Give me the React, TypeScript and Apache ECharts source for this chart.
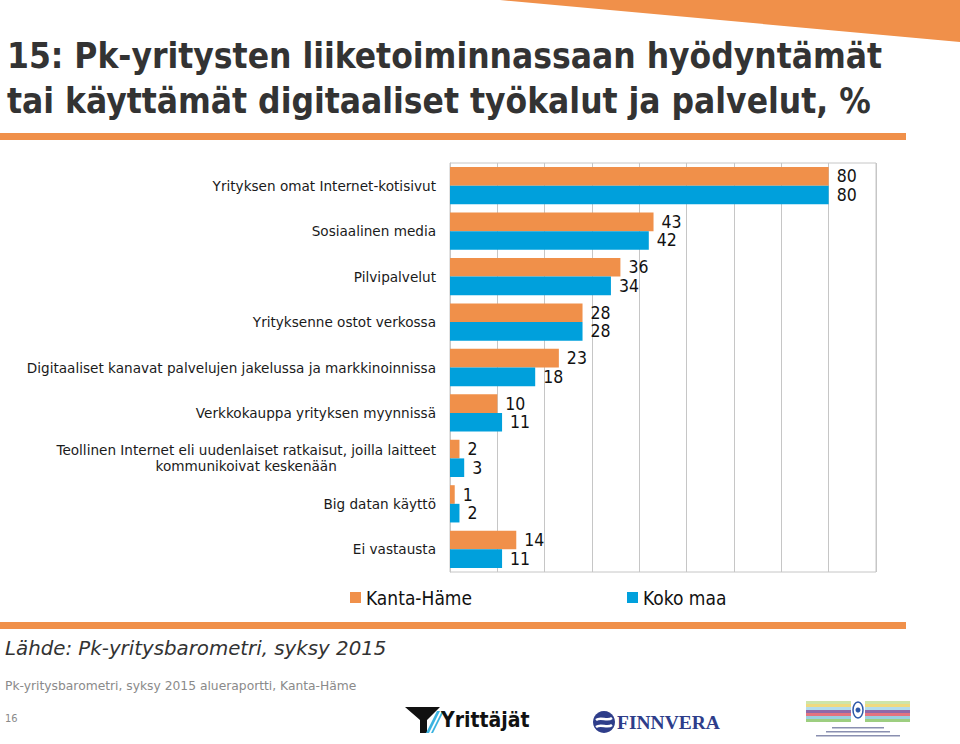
import React, { useEffect, useRef } from "react";
import * as echarts from "echarts";

const categories = [
  "Yrityksen omat Internet-kotisivut",
  "Sosiaalinen media",
  "Pilvipalvelut",
  "Yrityksenne ostot verkossa",
  "Digitaaliset kanavat palvelujen jakelussa ja markkinoinnissa",
  "Verkkokauppa yrityksen myynnissä",
  "Teollinen Internet eli uudenlaiset ratkaisut, joilla laitteet\nkommunikoivat keskenään",
  "Big datan käyttö",
  "Ei vastausta",
];
const kantaHame = [80, 43, 36, 28, 23, 10, 2, 1, 14];
const kokoMaa = [80, 42, 34, 28, 18, 11, 3, 2, 11];
const seriesNames = ["Kanta-Häme", "Koko maa"];

const ORANGE = "#F0904A";
const BLUE = "#00A0DC";
const FONT = "'DejaVu Sans Condensed', 'DejaVu Sans', sans-serif";
const FONT_W = "'DejaVu Sans', sans-serif";

export default function App() {
  const ref = useRef<HTMLDivElement>(null);
  useEffect(() => {
    if (!ref.current) return;
    const chart = echarts.init(ref.current, undefined, { renderer: "svg" });
    const labelCommon = {
      show: true,
      position: "right" as const,
      distance: 8,
      fontSize: 17.5,
      lineHeight: 16,
      fontFamily: FONT,
      color: "#111",
    };
    const legendText = { fontSize: 19, fontFamily: FONT, color: "#111" };
    chart.setOption({
      animation: false,
      backgroundColor: "#fff",
      grid: {
        left: 450,
        right: 84,
        top: 163,
        bottom: 172,
        show: true,
        borderColor: "#c6c6c6",
        borderWidth: 1,
      },
      xAxis: {
        type: "value",
        min: 0,
        max: 90,
        interval: 10,
        axisLabel: { show: false },
        axisTick: { show: false },
        axisLine: { show: false },
        splitLine: { show: true, lineStyle: { color: "#c6c6c6", width: 1 } },
      },
      yAxis: {
        type: "category",
        inverse: true,
        data: categories,
        axisTick: { show: false },
        axisLine: { show: true, lineStyle: { color: "#c6c6c6" } },
        axisLabel: {
          margin: 14,
          fontSize: 13.6,
          fontFamily: FONT_W,
          color: "#1a1a1a",
          lineHeight: 16,
          formatter: (v: string) => {
            if (v.indexOf("\n") >= 0) {
              return v
                .split("\n")
                .map((l) => "{c|" + l + "}")
                .join("\n");
            }
            return v;
          },
          rich: {
            c: {
              align: "center",
              fontSize: 13.6,
              fontFamily: FONT_W,
              color: "#1a1a1a",
              lineHeight: 16,
            },
          },
        },
      },
      legend: [
        {
          data: [seriesNames[0]],
          left: 345,
          top: 583,
          icon: "rect",
          itemWidth: 11,
          itemHeight: 11,
          itemGap: 5,
          textStyle: legendText,
        },
        {
          data: [seriesNames[1]],
          left: 622,
          top: 583,
          icon: "rect",
          itemWidth: 11,
          itemHeight: 11,
          itemGap: 5,
          textStyle: legendText,
        },
      ],
      series: [
        {
          name: seriesNames[0],
          type: "bar",
          data: kantaHame,
          itemStyle: { color: ORANGE },
          barGap: "0%",
          barCategoryGap: "18%",
          label: labelCommon,
        },
        {
          name: seriesNames[1],
          type: "bar",
          data: kokoMaa,
          itemStyle: { color: BLUE },
          barGap: "0%",
          barCategoryGap: "18%",
          label: labelCommon,
        },
      ],
      graphic: [
        {
          type: "polygon",
          shape: { points: [[500, 0], [960, 0], [960, 42]] },
          style: { fill: ORANGE },
        },
        {
          type: "text",
          left: 7,
          top: 33,
          style: {
            text: "15: Pk-yritysten liiketoiminnassaan hyödyntämät\ntai käyttämät digitaaliset työkalut ja palvelut, %",
            fontSize: 35,
            fontWeight: "bold",
            fontFamily: FONT,
            fill: "#333",
            lineHeight: 45,
          },
        },
        {
          type: "rect",
          shape: { x: 0, y: 133, width: 906, height: 7 },
          style: { fill: ORANGE },
        },
        {
          type: "rect",
          shape: { x: 0, y: 622, width: 906, height: 7 },
          style: { fill: ORANGE },
        },
        {
          type: "text",
          left: 5,
          top: 638,
          style: {
            text: "Lähde: Pk-yritysbarometri, syksy 2015",
            fontSize: 19.8,
            fontStyle: "italic",
            fontFamily: FONT_W,
            fill: "#333",
          },
        },
        {
          type: "text",
          left: 5,
          top: 680,
          style: {
            text: "Pk-yritysbarometri, syksy 2015 alueraportti, Kanta-Häme",
            fontSize: 12.3,
            fontFamily: FONT_W,
            fill: "#8a8a8a",
          },
        },
        {
          type: "text",
          left: 5,
          top: 713,
          style: { text: "16", fontSize: 11, fontFamily: FONT, fill: "#8a8a8a" },
        },
        // Yrittäjät logo
        {
          type: "group",
          children: [
            {
              type: "polygon",
              shape: { points: [[405, 707], [440, 707], [427, 720], [427, 733], [420, 733], [420, 720]] },
              style: { fill: "#111" },
            },
            {
              type: "polygon",
              shape: { points: [[426, 733], [437, 711], [440, 711], [429, 733]] },
              style: { fill: "#3bb3e0" },
            },
            {
              type: "polygon",
              shape: { points: [[431, 733], [442, 711], [444, 711], [433, 733]] },
              style: { fill: "#3bb3e0" },
            },
            {
              type: "text",
              x: 441,
              y: 709,
              style: {
                text: "Yrittäjät",
                fontSize: 21,
                fontWeight: "bold",
                fontFamily: "'DejaVu Sans Condensed', sans-serif",
                fill: "#111",
              },
            },
          ],
        },
        // Finnvera logo
        {
          type: "group",
          children: [
            { type: "circle", shape: { cx: 604, cy: 722, r: 11 }, style: { fill: "#2e3d8a" } },
            {
              type: "bezierCurve",
              shape: { x1: 596, y1: 720, x2: 612, y2: 718, cpx1: 601, cpy1: 716, cpx2: 607, cpy2: 722 },
              style: { stroke: "#fff", lineWidth: 2.5, fill: "none" },
            },
            {
              type: "bezierCurve",
              shape: { x1: 596, y1: 727, x2: 612, y2: 725, cpx1: 601, cpy1: 723, cpx2: 607, cpy2: 729 },
              style: { stroke: "#fff", lineWidth: 2.5, fill: "none" },
            },
            {
              type: "text",
              x: 617,
              y: 712,
              style: {
                text: "FINNVERA",
                fontSize: 19.5,
                fontWeight: "bold",
                fontFamily: "'Liberation Serif', serif",
                fill: "#2e3d8a",
              },
            },
          ],
        },
        // Ministry logo
        {
          type: "group",
          children: [
            { type: "rect", shape: { x: 806, y: 701, width: 104, height: 3 }, style: { fill: "#c6e09a", opacity: 0.85 } },
            { type: "rect", shape: { x: 806, y: 704, width: 104, height: 3 }, style: { fill: "#ecd36a", opacity: 0.85 } },
            { type: "rect", shape: { x: 806, y: 707, width: 104, height: 3 }, style: { fill: "#a6d6ea", opacity: 0.85 } },
            { type: "rect", shape: { x: 806, y: 710, width: 104, height: 3 }, style: { fill: "#7a4f9a", opacity: 0.85 } },
            { type: "rect", shape: { x: 806, y: 713, width: 104, height: 3 }, style: { fill: "#de5a6a", opacity: 0.85 } },
            { type: "rect", shape: { x: 806, y: 716, width: 104, height: 3 }, style: { fill: "#88c8dc", opacity: 0.85 } },
            { type: "rect", shape: { x: 806, y: 719, width: 104, height: 3 }, style: { fill: "#8cc66a", opacity: 0.85 } },
            { type: "rect", shape: { x: 851, y: 699, width: 14, height: 25 }, style: { fill: "#ffffff" } },
            { type: "ellipse", shape: { cx: 858, cy: 710, rx: 5, ry: 8 }, style: { fill: "none", stroke: "#2d58a8", lineWidth: 1.5 } },
            { type: "circle", shape: { cx: 858, cy: 710, r: 2.5 }, style: { fill: "#2d58a8" } },
            { type: "rect", shape: { x: 832, y: 727, width: 52, height: 1.5 }, style: { fill: "#8a8fb0" } },
            { type: "rect", shape: { x: 826, y: 731, width: 64, height: 1.5 }, style: { fill: "#8a8fb0" } },
            { type: "rect", shape: { x: 816, y: 735, width: 84, height: 1.5 }, style: { fill: "#8a8fb0" } },
          ],
        },
      ],
    });
    return () => chart.dispose();
  }, []);
  return (
    <div
      ref={ref}
      style={{ position: "fixed", left: 0, top: 0, width: 960, height: 744, background: "#fff" }}
    />
  );
}
